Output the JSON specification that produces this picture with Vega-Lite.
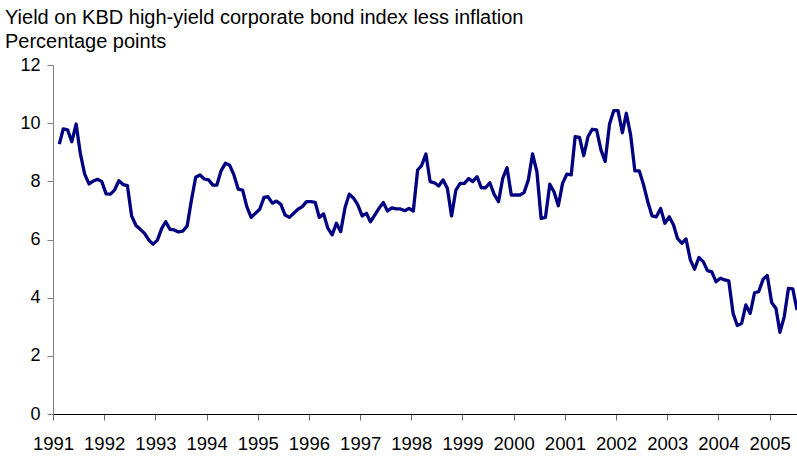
{
  "$schema": "https://vega.github.io/schema/vega-lite/v6.json",
  "width": 744,
  "height": 349,
  "autosize": {"type": "none"},
  "padding": {"left": 53, "top": 65, "right": 0, "bottom": 43},
  "background": "white",
  "config": {"view": {"stroke": null}, "font": "Liberation Sans"},
  "title": {
    "text": ["Yield on KBD high-yield corporate bond index less inflation", "Percentage points"],
    "anchor": "start",
    "frame": "group",
    "dx": -48,
    "offset": 4,
    "font": "Liberation Sans",
    "fontSize": 20,
    "fontWeight": "normal",
    "color": "#000000",
    "lineHeight": 24
  },
  "data": {"values": [
    {"date": "1991-02-15", "value": 9.28},
    {"date": "1991-03-15", "value": 9.80},
    {"date": "1991-04-15", "value": 9.77},
    {"date": "1991-05-15", "value": 9.36},
    {"date": "1991-06-15", "value": 9.97},
    {"date": "1991-07-15", "value": 8.96},
    {"date": "1991-08-15", "value": 8.25},
    {"date": "1991-09-15", "value": 7.91},
    {"date": "1991-10-15", "value": 8.01},
    {"date": "1991-11-15", "value": 8.07},
    {"date": "1991-12-15", "value": 7.99},
    {"date": "1992-01-15", "value": 7.57},
    {"date": "1992-02-15", "value": 7.56},
    {"date": "1992-03-15", "value": 7.70},
    {"date": "1992-04-15", "value": 8.02},
    {"date": "1992-05-15", "value": 7.89},
    {"date": "1992-06-15", "value": 7.85},
    {"date": "1992-07-15", "value": 6.81},
    {"date": "1992-08-15", "value": 6.48},
    {"date": "1992-09-15", "value": 6.35},
    {"date": "1992-10-15", "value": 6.21},
    {"date": "1992-11-15", "value": 5.98},
    {"date": "1992-12-15", "value": 5.84},
    {"date": "1993-01-15", "value": 5.98},
    {"date": "1993-02-15", "value": 6.38},
    {"date": "1993-03-15", "value": 6.61},
    {"date": "1993-04-15", "value": 6.35},
    {"date": "1993-05-15", "value": 6.33},
    {"date": "1993-06-15", "value": 6.26},
    {"date": "1993-07-15", "value": 6.29},
    {"date": "1993-08-15", "value": 6.46},
    {"date": "1993-09-15", "value": 7.36},
    {"date": "1993-10-15", "value": 8.14},
    {"date": "1993-11-15", "value": 8.22},
    {"date": "1993-12-15", "value": 8.08},
    {"date": "1994-01-15", "value": 8.05},
    {"date": "1994-02-15", "value": 7.87},
    {"date": "1994-03-15", "value": 7.87},
    {"date": "1994-04-15", "value": 8.37},
    {"date": "1994-05-15", "value": 8.62},
    {"date": "1994-06-15", "value": 8.55},
    {"date": "1994-07-15", "value": 8.22},
    {"date": "1994-08-15", "value": 7.73},
    {"date": "1994-09-15", "value": 7.70},
    {"date": "1994-10-15", "value": 7.13},
    {"date": "1994-11-15", "value": 6.76},
    {"date": "1994-12-15", "value": 6.90},
    {"date": "1995-01-15", "value": 7.04},
    {"date": "1995-02-15", "value": 7.45},
    {"date": "1995-03-15", "value": 7.47},
    {"date": "1995-04-15", "value": 7.25},
    {"date": "1995-05-15", "value": 7.32},
    {"date": "1995-06-15", "value": 7.21},
    {"date": "1995-07-15", "value": 6.84},
    {"date": "1995-08-15", "value": 6.76},
    {"date": "1995-09-15", "value": 6.90},
    {"date": "1995-10-15", "value": 7.04},
    {"date": "1995-11-15", "value": 7.13},
    {"date": "1995-12-15", "value": 7.30},
    {"date": "1996-01-15", "value": 7.30},
    {"date": "1996-02-15", "value": 7.28},
    {"date": "1996-03-15", "value": 6.76},
    {"date": "1996-04-15", "value": 6.88},
    {"date": "1996-05-15", "value": 6.39},
    {"date": "1996-06-15", "value": 6.16},
    {"date": "1996-07-15", "value": 6.56},
    {"date": "1996-08-15", "value": 6.27},
    {"date": "1996-09-15", "value": 7.10},
    {"date": "1996-10-15", "value": 7.56},
    {"date": "1996-11-15", "value": 7.42},
    {"date": "1996-12-15", "value": 7.19},
    {"date": "1997-01-15", "value": 6.81},
    {"date": "1997-02-15", "value": 6.90},
    {"date": "1997-03-15", "value": 6.61},
    {"date": "1997-04-15", "value": 6.84},
    {"date": "1997-05-15", "value": 7.07},
    {"date": "1997-06-15", "value": 7.27},
    {"date": "1997-07-15", "value": 6.98},
    {"date": "1997-08-15", "value": 7.09},
    {"date": "1997-09-15", "value": 7.05},
    {"date": "1997-10-15", "value": 7.05},
    {"date": "1997-11-15", "value": 6.99},
    {"date": "1997-12-15", "value": 7.07},
    {"date": "1998-01-15", "value": 6.98},
    {"date": "1998-02-15", "value": 8.39},
    {"date": "1998-03-15", "value": 8.54},
    {"date": "1998-04-15", "value": 8.94},
    {"date": "1998-05-15", "value": 7.99},
    {"date": "1998-06-15", "value": 7.95},
    {"date": "1998-07-15", "value": 7.84},
    {"date": "1998-08-15", "value": 8.05},
    {"date": "1998-09-15", "value": 7.76},
    {"date": "1998-10-15", "value": 6.81},
    {"date": "1998-11-15", "value": 7.70},
    {"date": "1998-12-15", "value": 7.93},
    {"date": "1999-01-15", "value": 7.93},
    {"date": "1999-02-15", "value": 8.10},
    {"date": "1999-03-15", "value": 7.99},
    {"date": "1999-04-15", "value": 8.16},
    {"date": "1999-05-15", "value": 7.78},
    {"date": "1999-06-15", "value": 7.78},
    {"date": "1999-07-15", "value": 7.95},
    {"date": "1999-08-15", "value": 7.55},
    {"date": "1999-09-15", "value": 7.30},
    {"date": "1999-10-15", "value": 8.10},
    {"date": "1999-11-15", "value": 8.47},
    {"date": "1999-12-15", "value": 7.53},
    {"date": "2000-01-15", "value": 7.53},
    {"date": "2000-02-15", "value": 7.53},
    {"date": "2000-03-15", "value": 7.61},
    {"date": "2000-04-15", "value": 8.05},
    {"date": "2000-05-15", "value": 8.94},
    {"date": "2000-06-15", "value": 8.33},
    {"date": "2000-07-15", "value": 6.73},
    {"date": "2000-08-15", "value": 6.76},
    {"date": "2000-09-15", "value": 7.90},
    {"date": "2000-10-15", "value": 7.64},
    {"date": "2000-11-15", "value": 7.16},
    {"date": "2000-12-15", "value": 7.93},
    {"date": "2001-01-15", "value": 8.25},
    {"date": "2001-02-15", "value": 8.22},
    {"date": "2001-03-15", "value": 9.54},
    {"date": "2001-04-15", "value": 9.51},
    {"date": "2001-05-15", "value": 8.88},
    {"date": "2001-06-15", "value": 9.54},
    {"date": "2001-07-15", "value": 9.79},
    {"date": "2001-08-15", "value": 9.77},
    {"date": "2001-09-15", "value": 9.08},
    {"date": "2001-10-15", "value": 8.68},
    {"date": "2001-11-15", "value": 9.96},
    {"date": "2001-12-15", "value": 10.43},
    {"date": "2002-01-15", "value": 10.43},
    {"date": "2002-02-15", "value": 9.67},
    {"date": "2002-03-15", "value": 10.34},
    {"date": "2002-04-15", "value": 9.59},
    {"date": "2002-05-15", "value": 8.36},
    {"date": "2002-06-15", "value": 8.36},
    {"date": "2002-07-15", "value": 7.90},
    {"date": "2002-08-15", "value": 7.30},
    {"date": "2002-09-15", "value": 6.81},
    {"date": "2002-10-15", "value": 6.78},
    {"date": "2002-11-15", "value": 7.07},
    {"date": "2002-12-15", "value": 6.56},
    {"date": "2003-01-15", "value": 6.78},
    {"date": "2003-02-15", "value": 6.50},
    {"date": "2003-03-15", "value": 6.04},
    {"date": "2003-04-15", "value": 5.87},
    {"date": "2003-05-15", "value": 6.02},
    {"date": "2003-06-15", "value": 5.30},
    {"date": "2003-07-15", "value": 4.98},
    {"date": "2003-08-15", "value": 5.38},
    {"date": "2003-09-15", "value": 5.24},
    {"date": "2003-10-15", "value": 4.93},
    {"date": "2003-11-15", "value": 4.89},
    {"date": "2003-12-15", "value": 4.55},
    {"date": "2004-01-15", "value": 4.67},
    {"date": "2004-02-15", "value": 4.61},
    {"date": "2004-03-15", "value": 4.58},
    {"date": "2004-04-15", "value": 3.46},
    {"date": "2004-05-15", "value": 3.04},
    {"date": "2004-06-15", "value": 3.12},
    {"date": "2004-07-15", "value": 3.75},
    {"date": "2004-08-15", "value": 3.46},
    {"date": "2004-09-15", "value": 4.17},
    {"date": "2004-10-15", "value": 4.21},
    {"date": "2004-11-15", "value": 4.63},
    {"date": "2004-12-15", "value": 4.76},
    {"date": "2005-01-15", "value": 3.83},
    {"date": "2005-02-15", "value": 3.63},
    {"date": "2005-03-15", "value": 2.81},
    {"date": "2005-04-15", "value": 3.35},
    {"date": "2005-05-15", "value": 4.32},
    {"date": "2005-06-15", "value": 4.30},
    {"date": "2005-07-15", "value": 3.58}
  ]},
  "mark": {"type": "line", "color": "#000080", "strokeWidth": 3.3, "strokeJoin": "round", "clip": true},
  "encoding": {
    "x": {
      "field": "date",
      "type": "temporal",
      "scale": {"type": "utc", "domain": ["1991-01-01", "2005-07-15"]},
      "axis": {
        "title": null,
        "format": "%Y",
        "tickCount": {"interval": "year", "step": 1},
        "grid": false,
        "domainColor": "#000000",
        "tickColor": "#666666",
        "tickSize": 6,
        "labelFont": "Liberation Sans",
        "labelFontSize": 18.5,
        "labelColor": "#000000",
        "labelPadding": 14,
        "labelOverlap": false,
        "labelFlush": false
      }
    },
    "y": {
      "field": "value",
      "type": "quantitative",
      "scale": {"domain": [0, 12], "nice": false, "zero": true},
      "axis": {
        "title": null,
        "values": [0, 2, 4, 6, 8, 10, 12],
        "grid": false,
        "domainColor": "#808080",
        "tickColor": "#808080",
        "tickSize": 6,
        "labelFont": "Liberation Sans",
        "labelFontSize": 18,
        "labelColor": "#000000",
        "labelPadding": 7
      }
    }
  }
}
